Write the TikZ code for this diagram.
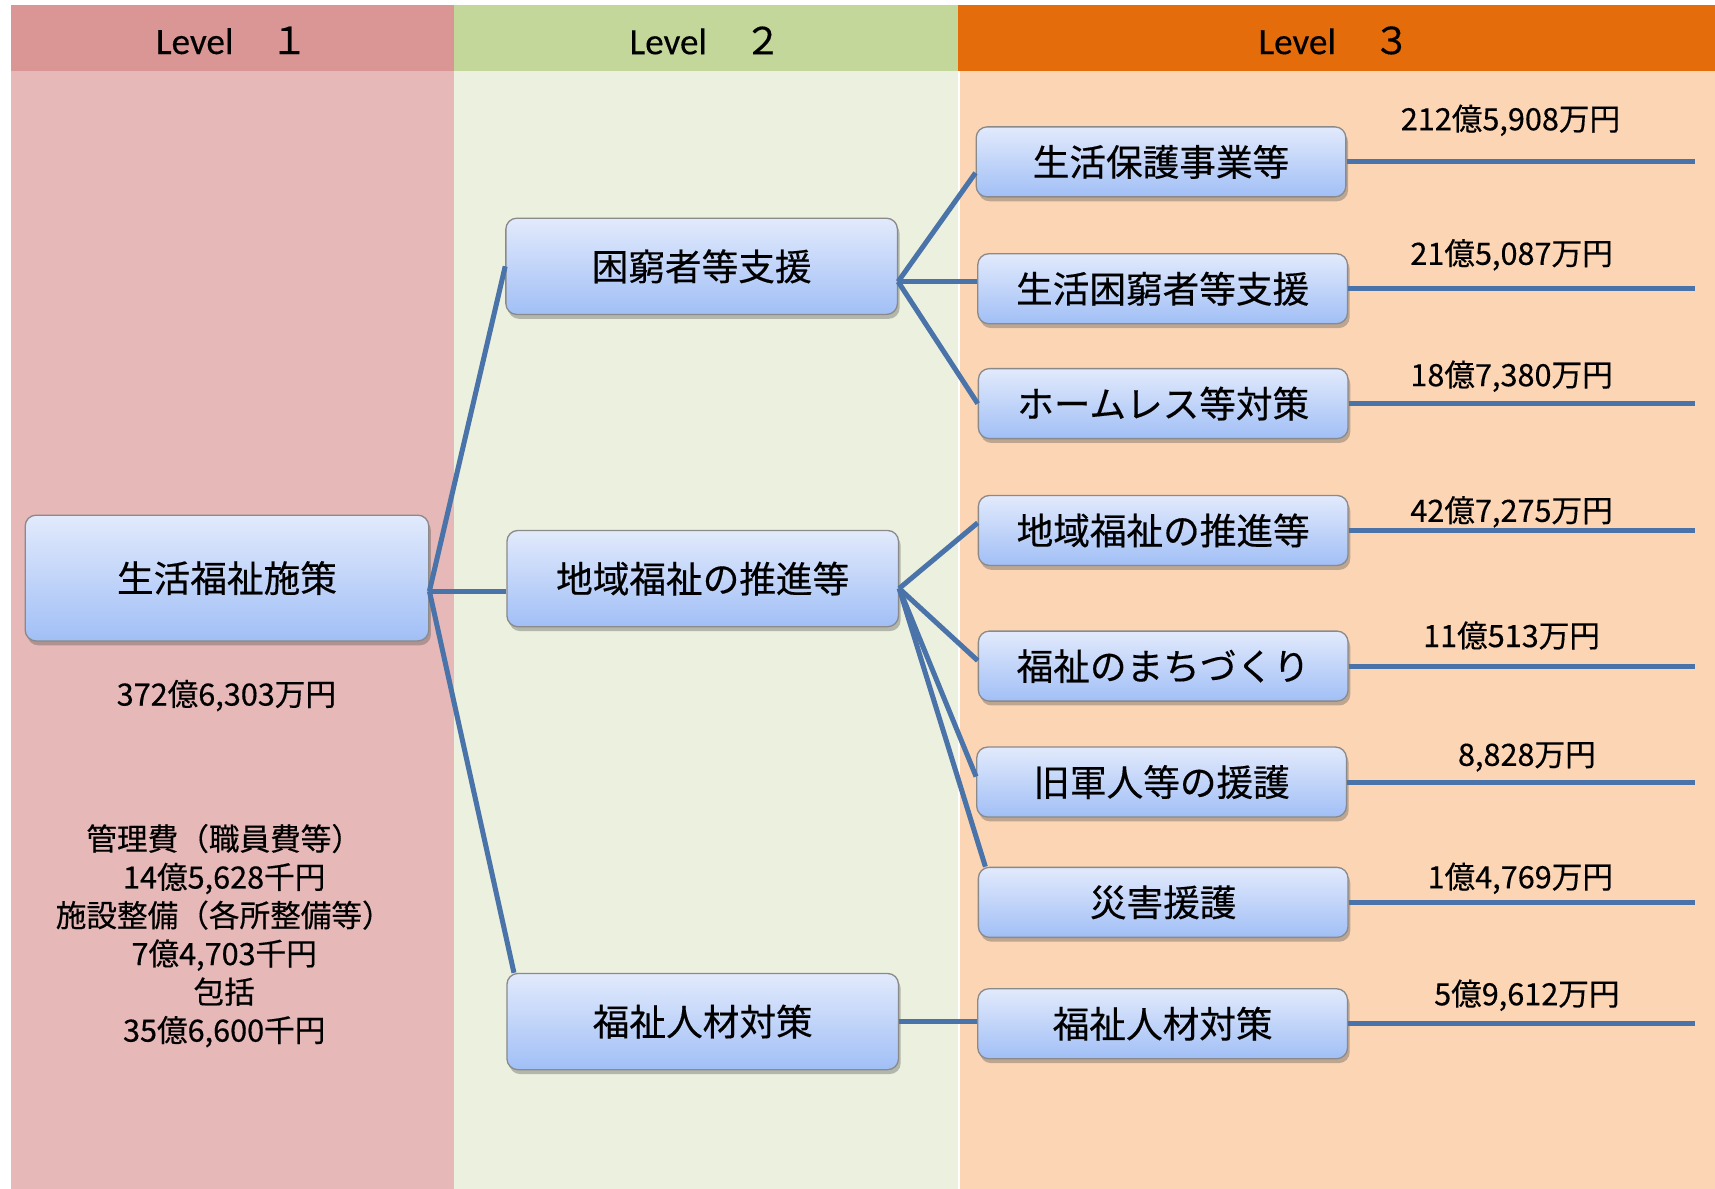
\documentclass[tikz,border=0pt]{standalone}
\usepackage{fontspec}
\setmainfont{Noto Sans CJK JP}[FakeBold=0.4]
\newfontfamily\carl{Carlito}[FakeBold=0.3]
\usetikzlibrary{shadows}
\definecolor{hdrA}{HTML}{DA9694}
\definecolor{bodyA}{HTML}{E6B8B7}
\definecolor{hdrB}{HTML}{C4D79B}
\definecolor{bodyB}{HTML}{EBF1DE}
\definecolor{hdrC}{HTML}{E46C0A}
\definecolor{bodyC}{HTML}{FCD5B5}
\definecolor{connblue}{HTML}{4A74A9}
\definecolor{boxtop}{HTML}{E2EAFC}
\definecolor{boxbot}{HTML}{A1BFF6}
\definecolor{boxline}{HTML}{8A8A8A}
\begin{document}
\begin{tikzpicture}[x=0.5pt,y=-0.5pt,
  boxbase/.style={rounded corners=5pt, draw=boxline, line width=0.6pt,
    top color=boxtop, bottom color=boxbot,
    drop shadow={shadow xshift=1pt, shadow yshift=-2pt, opacity=0.35, fill=black!70},
    inner sep=0pt, align=center, font=\fontsize{16.75pt}{20pt}\selectfont},
  lvone/.style={boxbase, minimum width=184.5pt, minimum height=57.5pt},
  lvtwo/.style={boxbase, minimum width=179pt, minimum height=44pt},
  lvthree/.style={boxbase, minimum width=169pt, minimum height=32pt},
  link/.style={draw=connblue, line width=2.3pt},
  amt/.style={inner sep=0pt, font=\fontsize{14pt}{17pt}\selectfont},
  hdr/.style={inner sep=0pt, font=\fontsize{17pt}{20pt}\selectfont},
  info/.style={inner sep=0pt, align=center, font=\fontsize{14pt}{17.5pt}\selectfont}
]
\useasboundingbox (0,0) rectangle (1568,1087);
% column backgrounds
\fill[bodyA] (10,65) rectangle (415,1087);
\fill[hdrA] (10,5) rectangle (415,65);
\fill[bodyB] (415,65) rectangle (876,1087);
\fill[hdrB] (415,5) rectangle (876,65);
\fill[bodyC] (876,65) rectangle (1568,1087);
\fill[hdrC] (876,5) rectangle (1568,65);
\draw[white, line width=1pt] (877,65) -- (877,1087);
% headers
\node[hdr] (h1) at (212,37) {{\carl Level}　１};
\node[hdr] (h2) at (645,37) {{\carl Level}　２};
\node[hdr] (h3) at (1220,37) {{\carl Level}　３};
% level 1
\node[lvone] (L1) at (207.5,528.5) {生活福祉施策};
\node[info] (tot) at (207,636) {372億6,303万円};
\node[info] (det) at (205,855.5) {管理費（職員費等）\\14億5,628千円\\施設整備（各所整備等）\\7億4,703千円\\包括\\35億6,600千円};
% level 2
\node[lvtwo] (K) at (641.5,243.5) {困窮者等支援};
\node[lvtwo] (C) at (642.5,529) {地域福祉の推進等};
\node[lvtwo] (J) at (642.5,934) {福祉人材対策};
% level 3
\node[lvthree] (B1) at (1061.5,148) {生活保護事業等};
\node[lvthree] (B2) at (1063,264) {生活困窮者等支援};
\node[lvthree] (B3) at (1063.5,369) {ホームレス等対策};
\node[lvthree] (B4) at (1063.5,485) {地域福祉の推進等};
\node[lvthree] (B5) at (1063.5,609) {福祉のまちづくり};
\node[lvthree] (B6) at (1062,715) {旧軍人等の援護};
\node[lvthree] (B7) at (1063.5,825) {災害援護};
\node[lvthree] (B8) at (1063,936) {福祉人材対策};
% amounts
\node[amt] (a1) at (1381,110) {212億5,908万円};
\node[amt] (a2) at (1382,233) {21億5,087万円};
\node[amt] (a3) at (1382,344) {18億7,380万円};
\node[amt] (a4) at (1382,468) {42億7,275万円};
\node[amt] (a5) at (1382,581) {11億513万円};
\node[amt] (a6) at (1396,692) {8,828万円};
\node[amt] (a7) at (1390,803) {1億4,769万円};
\node[amt] (a8) at (1396,910) {5億9,612万円};
% connectors level1 -> level2
\coordinate (r1) at ([yshift=-6pt]L1.east);
\draw[link] (r1) -- (K.west);
\draw[link] (r1) -- (r1 -| C.west);
\draw[link] (r1) -- ([xshift=3.5pt]J.north west);
% level2 -> level3
\coordinate (r2) at ([yshift=-7pt]K.east);
\draw[link] (r2) -- ([yshift=-5pt]B1.west);
\draw[link] (r2) -- (r2 -| B2.west);
\draw[link] (r2) -- (B3.west);
\coordinate (r3) at ([yshift=-4.5pt]C.east);
\draw[link] (r3) -- ([yshift=3.5pt]B4.west);
\draw[link] (r3) -- ([yshift=2.5pt]B5.west);
\draw[link] (r3) -- ([yshift=2.5pt]B6.west);
\draw[link] (r3) -- ([xshift=3.5pt]B7.north west);
\draw[link] (J.east) -- (J.east -| B8.west);
% right lines
\coordinate (rx) at (1550,0);
\foreach \b in {B1,B2,B3,B4,B5,B6,B7,B8}
  \draw[link] (\b.east) -- (\b.east -| rx);
\end{tikzpicture}
\end{document}
